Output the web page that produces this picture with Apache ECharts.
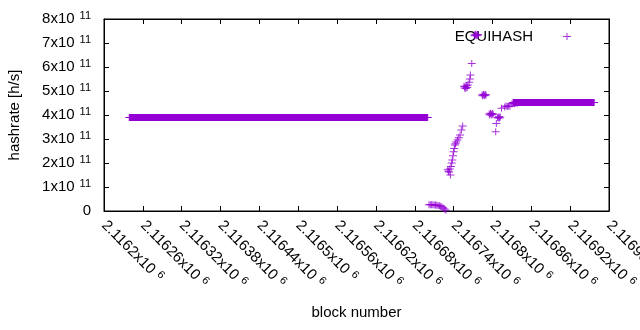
<!DOCTYPE html>
<html>
<head>
    <meta charset="utf-8">
    <script src="https://cdn.jsdelivr.net/npm/echarts@6/dist/echarts.min.js"></script>
    <style>
        body, html {
            margin: 0;
            height: 100%;
            background: #fff;
        }
        #main {
            width: 640px;
            height: 330px;
        }
    </style>
</head>
<body>
<div id="main"></div>

<script>
    // axis ranges
    var xMin = 2116200, xMax = 2116980, xStep = 60;
    var yMin = 0, yMax = 8e11, yStep = 1e11;

    // long flat stretches (start block, end block), drawn as a solid band
    var flatRun1 = [[2116239, 3.90e11], [2116700, 3.90e11]];
    var flatRun2 = [[2116832, 4.52e11], [2116957, 4.52e11]];

    // the drop right after the first stretch
    var dropPoints = [
        [2116702, 0.26e11], [2116704, 0.26e11], [2116706, 0.26e11], [2116708, 0.26e11],
        [2116710, 0.25e11], [2116712, 0.25e11], [2116714, 0.24e11], [2116716, 0.23e11],
        [2116718, 0.22e11], [2116720, 0.20e11], [2116722, 0.17e11], [2116724, 0.13e11],
        [2116726, 0.08e11], [2116728, 0.03e11]
    ];

    // recovery
    var risePoints = [
        [2116731, 1.72e11], [2116732, 1.66e11], [2116733, 1.62e11], [2116734, 1.75e11],
        [2116735, 1.50e11], [2116736, 1.85e11], [2116737, 2.00e11], [2116738, 2.12e11],
        [2116739, 2.30e11], [2116740, 2.47e11], [2116741, 2.60e11], [2116742, 2.75e11],
        [2116743, 2.80e11], [2116744, 2.88e11], [2116746, 2.96e11], [2116748, 3.05e11],
        [2116750, 3.17e11], [2116752, 3.37e11], [2116754, 3.54e11],
        [2116756, 5.20e11], [2116757, 5.12e11], [2116758, 5.18e11], [2116759, 5.10e11],
        [2116760, 5.22e11], [2116761, 5.15e11], [2116762, 5.25e11], [2116764, 5.36e11],
        [2116765, 5.50e11], [2116766, 5.67e11], [2116768, 6.15e11],
        [2116772, 7.33e11], [2116773, 7.30e11], [2116774, 7.36e11], [2116775, 7.33e11],
        [2116776, 7.30e11], [2116777, 7.35e11], [2116778, 7.33e11],
        [2116784, 4.83e11], [2116785, 4.80e11], [2116786, 4.86e11], [2116787, 4.83e11],
        [2116788, 4.80e11], [2116789, 4.85e11], [2116790, 4.83e11],
        [2116795, 4.04e11], [2116796, 4.00e11], [2116797, 4.07e11], [2116798, 4.04e11],
        [2116799, 4.00e11], [2116800, 4.06e11], [2116801, 4.03e11],
        [2116805, 3.30e11], [2116806, 3.65e11],
        [2116808, 3.90e11], [2116809, 3.87e11], [2116810, 3.93e11], [2116811, 3.88e11],
        [2116812, 3.92e11], [2116814, 4.28e11],
        [2116819, 4.33e11], [2116821, 4.37e11], [2116823, 4.35e11], [2116825, 4.38e11],
        [2116827, 4.36e11], [2116830, 4.46e11], [2116832, 4.48e11], [2116834, 4.47e11],
        [2116836, 4.50e11], [2116838, 4.49e11]
    ];

    var purple = '#9400d3';
    var plus = 'path://M3.5,0h1v7h-1z M0,3h8v1h-8z';
    var font = 'Liberation Sans';

    function xLabel(v) {
        var m = parseFloat((v / 1e6).toFixed(5));
        return '{b|' + m + 'x10}{s|6}';
    }
    function yLabel(v) {
        if (v === 0) return '{b|0}';
        return '{b|' + Math.round(v / 1e11) + 'x10}{s|11}';
    }
    var rich = {
        b: {fontSize: 15, fontFamily: font, color: '#000', lineHeight: 18},
        s: {fontSize: 11, fontFamily: font, color: '#000', lineHeight: 12, verticalAlign: 'top', padding: [0, 0, 0, 5]}
    };

    function frameLine() {
        return {show: true, onZero: false, lineStyle: {color: '#000', width: 1}};
    }
    function frameTick() {
        return {show: true, inside: true, length: 5, lineStyle: {color: '#000', width: 1}};
    }

    var myChart = echarts.init(document.getElementById('main'));
    var option = {
        animation: false,
        grid: {
            left: 104, right: 31, top: 19, bottom: 119,
            outerBoundsMode: 'none',
            show: true, borderColor: '#000', borderWidth: 1
        },
        legend: {
            right: 64,
            top: 24,
            align: 'right',
            itemWidth: 8,
            itemHeight: 7,
            data: [{name: 'EQUIHASH', icon: plus}],
            textStyle: {fontSize: 15, fontFamily: font, color: '#000', padding: [0, 25, 0, 0]}
        },
        xAxis: [{
            type: 'value',
            position: 'bottom',
            min: xMin, max: xMax, interval: xStep,
            name: 'block number',
            nameLocation: 'middle',
            nameGap: 94,
            nameTextStyle: {fontSize: 15, fontFamily: font, color: '#000'},
            axisLine: frameLine(),
            axisTick: frameTick(),
            splitLine: {show: false},
            axisLabel: {rotate: -45, margin: 12, formatter: xLabel, rich: rich}
        }, {
            type: 'value',
            position: 'top',
            min: xMin, max: xMax, interval: xStep,
            axisLine: frameLine(),
            axisTick: frameTick(),
            splitLine: {show: false},
            axisLabel: {show: false}
        }],
        yAxis: [{
            type: 'value',
            position: 'left',
            min: yMin, max: yMax, interval: yStep,
            name: 'hashrate [h/s]',
            nameLocation: 'middle',
            nameGap: 82,
            nameTextStyle: {fontSize: 15, fontFamily: font, color: '#000'},
            axisLine: frameLine(),
            axisTick: frameTick(),
            splitLine: {show: false},
            axisLabel: {margin: 13, formatter: yLabel, rich: rich}
        }, {
            type: 'value',
            position: 'right',
            min: yMin, max: yMax, interval: yStep,
            axisLine: frameLine(),
            axisTick: frameTick(),
            splitLine: {show: false},
            axisLabel: {show: false}
        }],
        series: [{
            name: 'EQUIHASH',
            type: 'scatter',
            symbol: plus,
            symbolSize: [8, 7],
            itemStyle: {color: purple},
            z: 5,
            data: dropPoints.concat(risePoints)
        }, {
            name: 'run1',
            type: 'line',
            symbol: plus,
            symbolSize: [8, 7],
            showSymbol: true,
            itemStyle: {color: purple},
            lineStyle: {color: purple, width: 7},
            data: flatRun1
        }, {
            name: 'run2',
            type: 'line',
            symbol: plus,
            symbolSize: [8, 7],
            showSymbol: true,
            itemStyle: {color: purple},
            lineStyle: {color: purple, width: 7},
            data: flatRun2
        }, {
            // binds the mirrored top/right axes
            name: 'frame',
            type: 'scatter',
            xAxisIndex: 1,
            yAxisIndex: 1,
            silent: true,
            data: []
        }]
    };
    myChart.setOption(option);
</script>
</body>
</html>
